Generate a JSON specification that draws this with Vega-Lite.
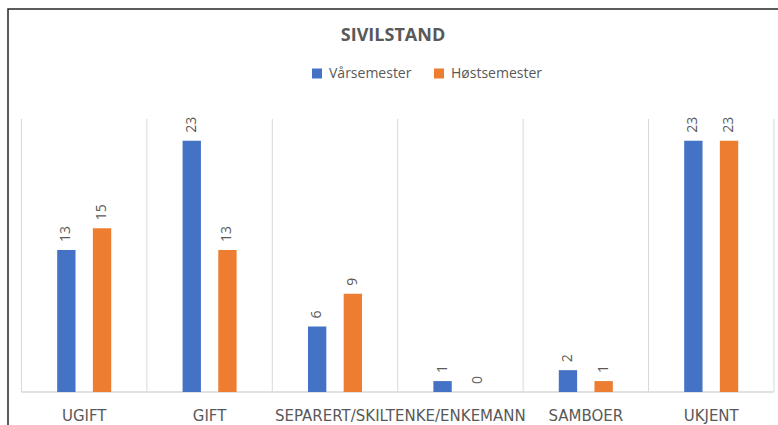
{
  "$schema": "https://vega.github.io/schema/vega-lite/v6.json",
  "autosize": "none",
  "padding": {"left": 8, "top": 9, "right": 0, "bottom": 0},
  "width": 770,
  "height": 416,
  "background": "white",
  "title": {
    "text": "SIVILSTAND",
    "orient": "top",
    "anchor": "middle",
    "frame": "group",
    "offset": -36,
    "font": "Open Sans",
    "fontSize": 18,
    "fontWeight": "bold",
    "color": "#595959"
  },
  "data": {
    "values": [
      {"cat": "UGIFT", "sem": "Vårsemester", "v": 13},
      {"cat": "UGIFT", "sem": "Høstsemester", "v": 15},
      {"cat": "GIFT", "sem": "Vårsemester", "v": 23},
      {"cat": "GIFT", "sem": "Høstsemester", "v": 13},
      {"cat": "SEPARERT/SKILT", "sem": "Vårsemester", "v": 6},
      {"cat": "SEPARERT/SKILT", "sem": "Høstsemester", "v": 9},
      {"cat": "ENKE/ENKEMANN", "sem": "Vårsemester", "v": 1},
      {"cat": "ENKE/ENKEMANN", "sem": "Høstsemester", "v": 0},
      {"cat": "SAMBOER", "sem": "Vårsemester", "v": 2},
      {"cat": "SAMBOER", "sem": "Høstsemester", "v": 1},
      {"cat": "UKJENT", "sem": "Vårsemester", "v": 23},
      {"cat": "UKJENT", "sem": "Høstsemester", "v": 23}
    ]
  },
  "layer": [
    {
      "transform": [{"filter": "datum.sem == 'Vårsemester'"}],
      "mark": {"type": "rule", "color": "#D9D9D9", "strokeWidth": 1},
      "encoding": {
        "x": {"field": "cat", "type": "nominal", "bandPosition": 0,
              "sort": ["UGIFT", "GIFT", "SEPARERT/SKILT", "ENKE/ENKEMANN", "SAMBOER", "UKJENT"],
              "scale": {"paddingInner": 0, "paddingOuter": 0.0702, "align": 0.767},
              "axis": {"title": null, "orient": "bottom", "offset": -33, "domain": false, "ticks": false, "tickSize": 0, "grid": false, "labelPadding": 16, "labelAngle": 0, "labelOverlap": false, "labelFont": "DejaVu Sans", "labelFontSize": 15, "labelColor": "#595959"}},
        "y": {"datum": 0, "type": "quantitative", "scale": {"domain": [-3.022, 35.073], "nice": false, "zero": false}, "axis": null},
        "y2": {"datum": 25}
      }
    },
    {
      "transform": [{"filter": "datum.sem == 'Vårsemester' && datum.cat == 'UKJENT'"}],
      "mark": {"type": "rule", "color": "#D9D9D9", "strokeWidth": 1},
      "encoding": {
        "x": {"field": "cat", "type": "nominal", "bandPosition": 1,
              "sort": ["UGIFT", "GIFT", "SEPARERT/SKILT", "ENKE/ENKEMANN", "SAMBOER", "UKJENT"]},
        "y": {"datum": 0, "type": "quantitative"},
        "y2": {"datum": 25}
      }
    },
    {
      "transform": [{"filter": "datum.sem == 'Vårsemester'"}],
      "mark": {"type": "rect", "fill": null, "fillOpacity": 0, "stroke": "#D9D9D9", "strokeWidth": 1},
      "encoding": {
        "x": {"field": "cat", "type": "nominal",
              "sort": ["UGIFT", "GIFT", "SEPARERT/SKILT", "ENKE/ENKEMANN", "SAMBOER", "UKJENT"]},
        "y": {"datum": 0, "type": "quantitative"},
        "y2": {"datum": 0}
      }
    },
    {
      "mark": {"type": "bar"},
      "encoding": {
        "x": {"field": "cat", "type": "nominal",
              "sort": ["UGIFT", "GIFT", "SEPARERT/SKILT", "ENKE/ENKEMANN", "SAMBOER", "UKJENT"]},
        "xOffset": {"field": "sem", "type": "nominal", "sort": ["Vårsemester", "Høstsemester"],
                    "scale": {"paddingInner": 0.486, "paddingOuter": 1.172}},
        "y": {"field": "v", "type": "quantitative"},
        "y2": {"datum": 0},
        "color": {"field": "sem", "type": "nominal", "sort": ["Vårsemester", "Høstsemester"],
                  "scale": {"domain": ["Vårsemester", "Høstsemester"], "range": ["#4472C4", "#ED7D31"]},
                  "legend": {"title": null, "orient": "none", "legendX": 302, "legendY": 57.5, "direction": "horizontal",
                             "symbolType": "square", "symbolSize": 100, "symbolStrokeWidth": 0,
                             "labelFont": "Open Sans", "labelFontSize": 14, "labelColor": "#595959",
                             "labelOffset": 5, "columnPadding": 20}}
      }
    },
    {
      "mark": {"type": "text", "angle": 270, "align": "left", "baseline": "middle", "dx": 8,
               "font": "Open Sans", "fontSize": 14, "color": "#595959"},
      "encoding": {
        "x": {"field": "cat", "type": "nominal",
              "sort": ["UGIFT", "GIFT", "SEPARERT/SKILT", "ENKE/ENKEMANN", "SAMBOER", "UKJENT"]},
        "xOffset": {"field": "sem", "type": "nominal", "sort": ["Vårsemester", "Høstsemester"]},
        "y": {"field": "v", "type": "quantitative"},
        "text": {"field": "v", "type": "quantitative"}
      }
    }
  ],
  "config": {
    "view": {"stroke": "#262626", "strokeWidth": 1.5, "strokeDash": [770, 1186]},
    "font": "Open Sans"
  }
}
